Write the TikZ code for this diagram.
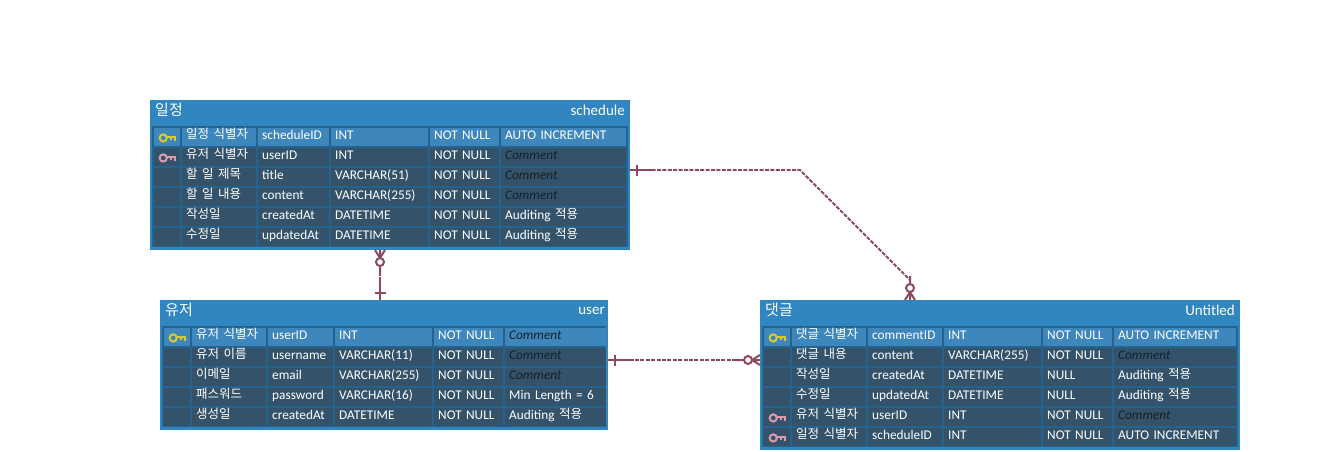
\documentclass[tikz,border=0pt]{standalone}
\usepackage{fontspec}
\setmainfont[WordSpace=0.8]{Carlito}
\newfontfamily\krfont{Noto Sans CJK KR}
\usetikzlibrary{calc}

\definecolor{tablefill}{HTML}{3186C0}
\definecolor{gridline}{HTML}{25638F}
\definecolor{rowdark}{HTML}{34536A}
\definecolor{rowkey}{HTML}{3E87BD}
\definecolor{relcolor}{HTML}{8A4A5C}
\definecolor{keygold}{HTML}{D8CB2E}
\definecolor{keypink}{HTML}{DC9CB0}
\definecolor{cmtink}{HTML}{14212B}

\newcommand{\ko}[1]{{\krfont\fontsize{12.5}{15}\selectfont\raisebox{1.5pt}{#1}}}
\newcommand{\cmt}{{\itshape\color{cmtink}\fontsize{13.3}{15}\selectfont Comment}}

% one cell of a row: name, left, right, top, text
\newcommand{\ercell}[5]{%
    \pgfmathsetmacro{\cellw}{#3-#2}
    \node[cell, fill=\rowcol, minimum width=\cellw pt, text width=\cellw pt-8pt] (\tbl-\rownum-#1) at (#2, #4) {#5};
}
% one row of a table: number, korean name, column, type, null, extra
\newcommand{\errow}[6]{%
    \def\rownum{#1}
    \ifnum#1=1 \def\rowcol{rowkey}\else\def\rowcol{rowdark}\fi
    \pgfmathsetmacro{\rowy}{27.5+20*(#1-1)}
    \ercell{icon}{4}{30}{\rowy}{}
    \ercell{ko}{32}{106}{\rowy}{\ko{#2}}
    \ercell{col}{108}{\colb}{\rowy}{#3}
    \pgfmathsetmacro{\colx}{\colb+2}
    \ercell{typ}{\colx}{\colc}{\rowy}{#4}
    \pgfmathsetmacro{\colx}{\colc+2}
    \ercell{nul}{\colx}{\cold}{\rowy}{#5}
    \pgfmathsetmacro{\colx}{\cold+2}
    \ercell{ext}{\colx}{\cole}{\rowy}{#6}
}

\tikzset{
    tablebox/.style={fill=tablefill, anchor=north west, inner sep=0pt},
    gridbox/.style={fill=gridline, anchor=north west, inner sep=0pt},
    cell/.style={anchor=north west, inner xsep=4pt, inner ysep=0pt, minimum height=18.5pt,
        text height=9pt, text depth=3pt, text=white, align=left,
        font=\fontsize{13.3}{15}\selectfont},
    titlekr/.style={text=white, inner sep=0pt, font=\krfont\fontsize{15}{17}\selectfont},
    titleen/.style={text=white, inner sep=0pt, font=\fontsize{15}{17}\selectfont},
    relline/.style={draw=relcolor, line width=1.8pt, dash pattern=on 4pt off 1.4pt},
    keyicon/.pic={
        \draw[line width=2pt, pic actions] (-4,0) circle (3.6);
        \draw[line width=2pt, pic actions] (-0.4,-1) -- (7.5,-1) -- (7.5,3) (3.5,-1) -- (3.5,2.5);
    },
    onebar/.pic={
        \draw[relcolor, line width=2pt] (0,0) -- (22,0) (7,-5.5) -- (7,5.5);
    },
    zeromany/.pic={
        \draw[relcolor, line width=2pt] (0,-5) -- (8,0) -- (0,5) (0,0) -- (8,0) (16,0) -- (24,0);
        \draw[relcolor, line width=2pt, fill=white] (12,0) circle (4);
    },
}

\begin{document}
\begin{tikzpicture}[x=1pt, y=-1pt]
    \useasboundingbox (0,0) rectangle (1340,452);

    % schedule
    \begin{scope}[xshift=150pt, yshift=-100pt]
        \def\tbl{schedule}
        \def\colb{179} \def\colc{278} \def\cold{349} \def\cole{476}
        \node[tablebox, minimum width=480pt, minimum height=150pt] (schedule) at (0,0) {};
        \node[gridbox, minimum width=476pt, minimum height=121pt] (schedule-grid) at (2,26) {};
        \node[titlekr, anchor=west] (schedule-kr) at (5,10) {일정};
        \node[titleen, anchor=east] (schedule-en) at (475,10.5) {schedule};
        \foreach \r/\a/\b/\c/\d/\e in {
            1/일정 식별자/scheduleID/INT/NOT NULL/AUTO INCREMENT,
            2/유저 식별자/userID/INT/NOT NULL/\cmt,
            3/할 일 제목/title/VARCHAR(51)/NOT NULL/\cmt,
            4/할 일 내용/content/VARCHAR(255)/NOT NULL/\cmt,
            5/작성일/createdAt/DATETIME/NOT NULL/{Auditing \ko{적용}},
            6/수정일/updatedAt/DATETIME/NOT NULL/{Auditing \ko{적용}}}
            {\errow{\r}{\a}{\b}{\c}{\d}{\e}}
        \pic[draw=keygold] at ($(schedule-1-icon)+(0,1)$) {keyicon};
        \pic[draw=keypink] at ($(schedule-2-icon)+(0,1)$) {keyicon};
        \coordinate (schedule-east) at (480,70);
        \coordinate (schedule-south) at (230,150);
    \end{scope}

    % user
    \begin{scope}[xshift=160pt, yshift=-300pt]
        \def\tbl{user}
        \def\colb{173} \def\colc{272} \def\cold{343} \def\cole{446}
        \node[tablebox, minimum width=448pt, minimum height=130pt] (user) at (0,0) {};
        \node[gridbox, minimum width=444pt, minimum height=101pt] (user-grid) at (2,26) {};
        \node[titlekr, anchor=west] (user-kr) at (5,10) {유저};
        \node[titleen, anchor=east] (user-en) at (445,10.5) {user};
        \foreach \r/\a/\b/\c/\d/\e in {
            1/유저 식별자/userID/INT/NOT NULL/\cmt,
            2/유저 이름/username/VARCHAR(11)/NOT NULL/\cmt,
            3/이메일/email/VARCHAR(255)/NOT NULL/\cmt,
            4/패스워드/password/VARCHAR(16)/NOT NULL/Min Length = 6,
            5/생성일/createdAt/DATETIME/NOT NULL/{Auditing \ko{적용}}}
            {\errow{\r}{\a}{\b}{\c}{\d}{\e}}
        \pic[draw=keygold] at ($(user-1-icon)+(0,1)$) {keyicon};
        \coordinate (user-north) at (220,0);
        \coordinate (user-east) at (448,60);
    \end{scope}

    % comment
    \begin{scope}[xshift=760pt, yshift=-300pt]
        \def\tbl{comment}
        \def\colb{182} \def\colc{281} \def\cold{352} \def\cole{476}
        \node[tablebox, minimum width=480pt, minimum height=150pt] (comment) at (0,0) {};
        \node[gridbox, minimum width=476pt, minimum height=121pt] (comment-grid) at (2,26) {};
        \node[titlekr, anchor=west] (comment-kr) at (5,10) {댓글};
        \node[titleen, anchor=east] (comment-en) at (475,10.5) {Untitled};
        \foreach \r/\a/\b/\c/\d/\e in {
            1/댓글 식별자/commentID/INT/NOT NULL/AUTO INCREMENT,
            2/댓글 내용/content/VARCHAR(255)/NOT NULL/\cmt,
            3/작성일/createdAt/DATETIME/NULL/{Auditing \ko{적용}},
            4/수정일/updatedAt/DATETIME/NULL/{Auditing \ko{적용}},
            5/유저 식별자/userID/INT/NOT NULL/\cmt,
            6/일정 식별자/scheduleID/INT/NOT NULL/AUTO INCREMENT}
            {\errow{\r}{\a}{\b}{\c}{\d}{\e}}
        \pic[draw=keygold] at ($(comment-1-icon)+(0,1)$) {keyicon};
        \pic[draw=keypink] at ($(comment-5-icon)+(0,1)$) {keyicon};
        \pic[draw=keypink] at ($(comment-6-icon)+(0,1)$) {keyicon};
        \coordinate (comment-west) at (0,60);
        \coordinate (comment-north) at (150,0);
    \end{scope}

    % relations
    \coordinate (bend-a) at (800,170);
    \coordinate (bend-b) at (910,280);
    \draw[relline] (schedule-east) -- (bend-a) -- (bend-b) -- (comment-north);
    \draw[relline] (schedule-south) -- (user-north);
    \draw[relline] (user-east) -- (comment-west);
    \pic at (schedule-east) {onebar};
    \pic[rotate=90] at (comment-north) {zeromany};
    \pic[rotate=-90] at (schedule-south) {zeromany};
    \pic[rotate=90] at (user-north) {onebar};
    \pic at (user-east) {onebar};
    \pic[rotate=180] at (comment-west) {zeromany};
\end{tikzpicture}
\end{document}
